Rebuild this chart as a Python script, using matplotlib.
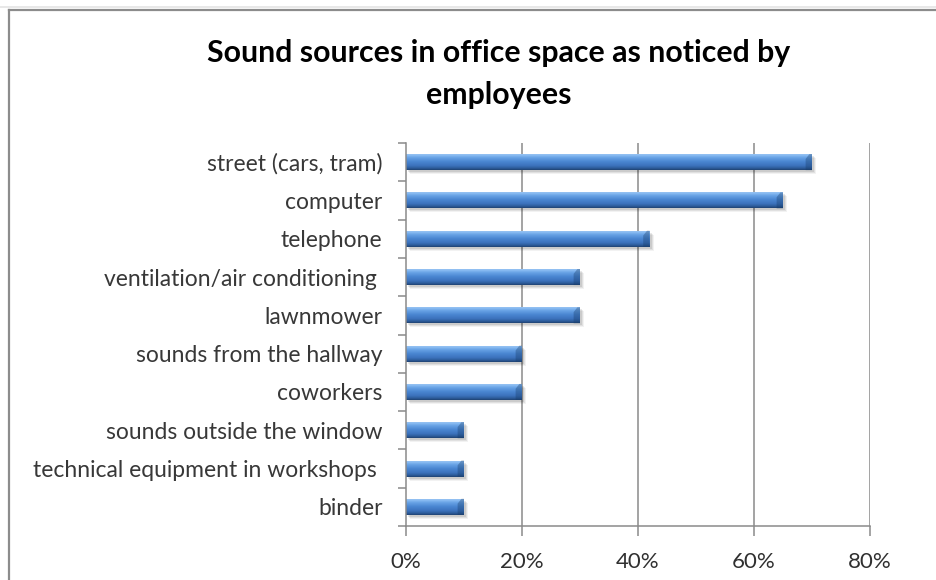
import numpy as np
import matplotlib
matplotlib.use("Agg")
import matplotlib.pyplot as plt
from matplotlib.patches import Rectangle, Polygon
from matplotlib.colors import LinearSegmentedColormap
from matplotlib.ticker import FuncFormatter, FixedLocator
import matplotlib.transforms as mtransforms

# Survey data: share of employees noticing each sound source
categories = [
    "street (cars, tram)",
    "computer",
    "telephone",
    "ventilation/air conditioning ",
    "lawnmower",
    "sounds from the hallway",
    "coworkers",
    "sounds outside the window",
    "technical equipment in workshops ",
    "binder",
]
shares = [0.70, 0.65, 0.42, 0.30, 0.30, 0.20, 0.20, 0.10, 0.10, 0.10]
x_ticks = [0.0, 0.2, 0.4, 0.6, 0.8]
title = "Sound sources in office space as noticed by\nemployees"

plt.rcParams["font.family"] = ["Lato", "DejaVu Sans"]

W, H, DPI = 936, 580, 100
fig = plt.figure(figsize=(W / DPI, H / DPI), dpi=DPI)
fig.patch.set_facecolor("white")

# chart-area frame (light gray border along top/left)
fig.add_artist(plt.Line2D([9 / W, 9 / W], [0, 1 - 10 / H], color="#8c8c8c", lw=1.6))
fig.add_artist(plt.Line2D([9 / W, 1], [1 - 10 / H, 1 - 10 / H], color="#8c8c8c", lw=1.6))
fig.add_artist(plt.Line2D([0, 1], [1 - 7 / H, 1 - 7 / H], color="#e4e4e4", lw=1.2))

left, right, top, bottom = 406, 870, 143, 526
ax = fig.add_axes([left / W, 1 - bottom / H, (right - left) / W, (bottom - top) / H])

n = len(categories)
ypos = np.arange(n)
bar_h = 0.42

ax.set_xlim(0, 0.8)
ax.set_ylim(n - 0.5, -0.5)

# gridlines
for t in x_ticks[1:]:
    ax.axvline(t, color="#8a8a8a", lw=1.1, zorder=1)

# vertical gradient used to shade each bar like a rounded tube
grad_cmap = LinearSegmentedColormap.from_list(
    "tube",
    [
        (0.00, "#9cc0ec"),
        (0.10, "#8fc0f4"),
        (0.25, "#6aa4e6"),
        (0.50, "#4a86d2"),
        (0.75, "#3c72bc"),
        (0.90, "#2c5b9a"),
        (1.00, "#1f4372"),
    ],
)
grad = np.linspace(0, 1, 64).reshape(-1, 1)

cap_w = 0.011
for y, v in zip(ypos, shares):
    y0 = y - bar_h / 2
    # soft drop shadow
    for k, a in zip([4, 3, 2], [0.05, 0.07, 0.09]):
        off = mtransforms.ScaledTranslation(k / DPI, -k / DPI, fig.dpi_scale_trans)
        sh = Rectangle((0, y0), v, bar_h, facecolor="black", edgecolor="none",
                       alpha=a, transform=ax.transData + off, zorder=2)
        ax.add_patch(sh)
    rect = Rectangle((0, y0), v, bar_h, facecolor="#4a86d2", edgecolor="none", zorder=3)
    ax.add_patch(rect)
    im = ax.imshow(grad, cmap=grad_cmap, aspect="auto", extent=(0, v, y0 + bar_h, y0),
                   interpolation="bilinear", zorder=4)
    im.set_clip_path(rect)
    # bevelled end cap
    cap = Polygon(
        [(v - cap_w, y0 + bar_h * 0.30), (v - cap_w * 0.4, y0), (v, y0),
         (v, y0 + bar_h), (v - cap_w, y0 + bar_h)],
        closed=True, facecolor="#163a66", edgecolor="none", alpha=0.35, zorder=5)
    ax.add_patch(cap)

ax.set_xlim(0, 0.8)
ax.set_ylim(n - 0.5, -0.5)

for s in ["top", "right"]:
    ax.spines[s].set_visible(False)
for s in ["left", "bottom"]:
    ax.spines[s].set_color("#8a8a8a")
    ax.spines[s].set_linewidth(1.1)
    ax.spines[s].set_zorder(6)

ax.xaxis.set_major_locator(FixedLocator(x_ticks))
ax.xaxis.set_major_formatter(FuncFormatter(lambda v, p: f"{v * 100:.0f}%"))
ax.tick_params(axis="x", which="major", length=7, width=1.1, color="#8a8a8a",
               labelsize=16, labelcolor="#303030", pad=12)

ax.set_yticks(ypos)
ax.set_yticklabels(categories)
ax.set_yticks(np.arange(n + 1) - 0.5, minor=True)
ax.tick_params(axis="y", which="major", length=0, labelsize=16.5, labelcolor="#383838", pad=17)
ax.tick_params(axis="y", which="minor", length=6, width=1.1, color="#8a8a8a")

fig.text(499 / W, 1 - 74 / H, title, ha="center", va="center", fontsize=21.8,
         fontweight="bold", color="black", linespacing=1.62)

fig.savefig("out.png", dpi=DPI)
